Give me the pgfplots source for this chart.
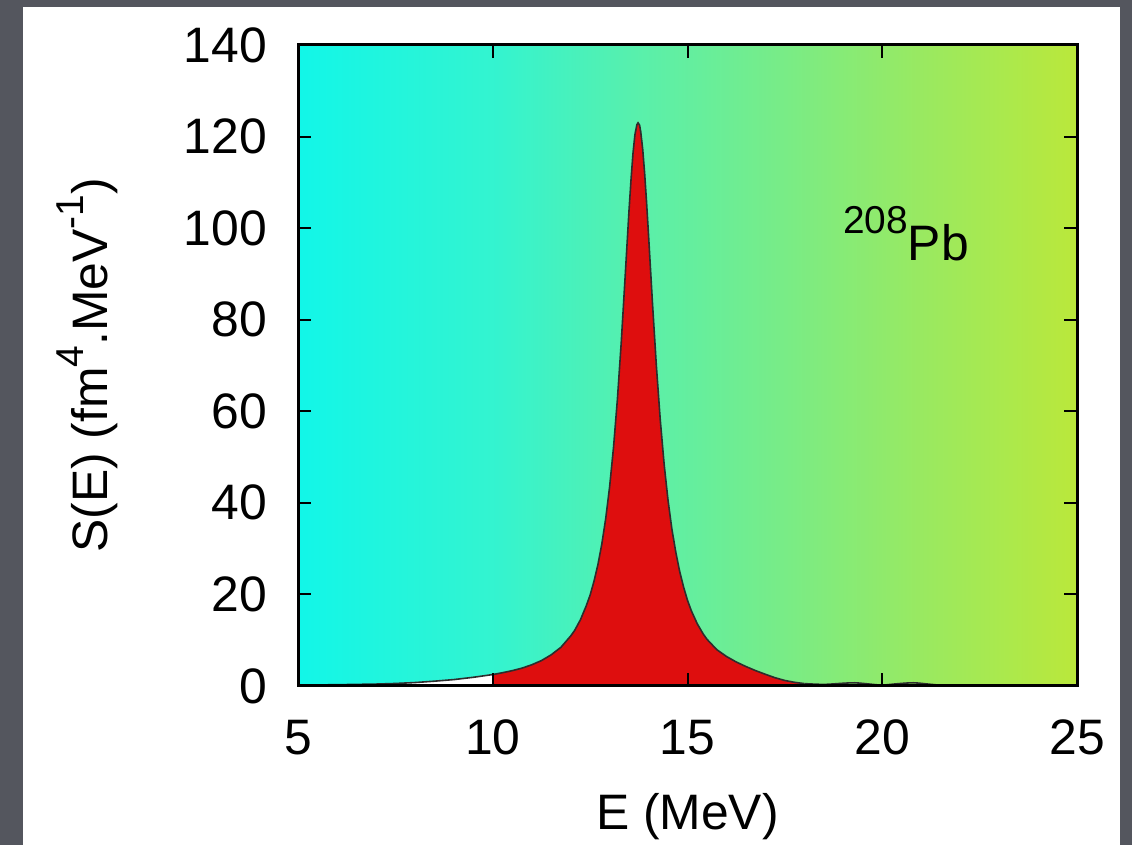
\documentclass[border=0pt]{standalone}
\usepackage{fontspec}
\setmainfont{Liberation Sans}
\usepackage{pgfplots}
\pgfplotsset{compat=1.18}
\definecolor{slide}{RGB}{84,86,94}
\definecolor{peakred}{RGB}{222,14,14}
\definecolor{curvecol}{RGB}{45,45,45}
\pgfdeclarehorizontalshading{bgshade}{100bp}{%
rgb(0bp)=(0.07,0.965,0.91);
rgb(25bp)=(0.07,0.965,0.91);
rgb(37.5bp)=(0.20,0.955,0.815);
rgb(47bp)=(0.35,0.94,0.67);
rgb(56bp)=(0.47,0.925,0.53);
rgb(65bp)=(0.60,0.915,0.38);
rgb(75bp)=(0.73,0.91,0.23);
rgb(100bp)=(0.73,0.91,0.23)}

\pgfplotstableread{
E S
5.0 0.20
6.0 0.28
7.0 0.42
7.5 0.55
8.0 0.75
8.5 1.05
9.0 1.40
9.5 1.90
10.0 2.50
}\lefttail

\pgfplotstableread{
E S
10.0 2.50
10.25 2.90
10.5 3.35
10.75 3.90
11.0 4.63
11.25 5.55
11.5 6.81
11.75 8.45
12.0 10.92
12.1 12.10
12.25 14.45
12.4 17.50
12.5 19.87
12.6 22.90
12.7 26.51
12.8 31.00
12.9 36.57
13.0 43.48
13.1 52.06
13.2 62.60
13.3 75.20
13.4 89.56
13.5 104.1
13.55 110.6
13.6 116.3
13.65 120.4
13.7 122.6
13.73 123.0
13.77 122.5
13.8 121.0
13.85 117.2
13.9 111.9
13.95 105.5
14.0 98.41
14.1 83.71
14.2 69.99
14.3 58.18
14.4 48.44
14.5 40.55
14.6 34.21
14.7 29.20
14.8 24.97
14.9 21.60
15.0 18.70
15.1 16.40
15.25 13.60
15.4 11.40
15.5 10.20
15.75 7.95
16.0 6.45
16.25 5.25
16.5 4.25
16.75 3.35
17.0 2.55
17.25 1.80
17.5 1.20
17.75 0.80
18.0 0.52
}\peak

\pgfplotstableread{
E S
18.0 0.52
18.5 0.35
19.0 0.60
19.3 0.70
19.7 0.40
20.0 0.20
20.4 0.50
20.8 0.70
21.2 0.40
21.6 0.10
22.0 0.05
23.0 0.02
25.0 0.00
}\righttail

\begin{document}
\begin{tikzpicture}[x=1bp,y=1bp]
\fill[slide] (0,0) rectangle (1132,845);
\fill[white] (23,0) rectangle (1120,838);
\useasboundingbox (0,0) rectangle (1132,845);
\begin{axis}[
  at={(298bp,159bp)}, anchor=south west,
  scale only axis, width=779bp, height=641bp,
  xmin=5, xmax=25, ymin=0, ymax=140,
  xtick={5,10,...,25}, ytick={0,20,...,140},
  tick align=inside, major tick length=13bp,
  axis line style={line width=3bp},
  every tick/.style={black, line width=2bp},
  tick label style={font=\fontsize{50}{60}\selectfont, inner sep=0pt},
  /pgf/number format/assume math mode=true,
  xticklabel style={anchor=north, yshift=-34bp},
  yticklabel style={anchor=east, xshift=-31bp},
  axis background/.style={shade, shading=bgshade},
  xlabel={E (MeV)},
  ylabel={S(E) (fm\raisebox{24bp}{\fontsize{39}{40}\selectfont 4}.MeV\raisebox{24bp}{\fontsize{39}{40}\selectfont -1})},
  label style={font=\fontsize{50}{60}\selectfont},
  xlabel style={at={([yshift=-131bp]axis description cs:0.5,0)}, anchor=center},
  ylabel style={at={([xshift=-211bp]axis description cs:0,0.5)}, anchor=center},
  axis on top,
]
\addplot[fill=white, draw=none] table[x=E,y=S] {\lefttail} \closedcycle;
\addplot[fill=peakred, draw=none] table[x=E,y=S] {\peak} \closedcycle;
\addplot[draw=curvecol, line width=1.6bp] table[x=E,y=S] {\lefttail};
\addplot[draw=curvecol, line width=1.6bp] table[x=E,y=S] {\peak};
\addplot[draw=curvecol, line width=1.6bp, smooth] table[x=E,y=S] {\righttail};
\node[anchor=base west, font=\fontsize{50}{60}\selectfont, inner sep=0pt] at (axis cs:18.99,93) {\raisebox{27bp}{\fontsize{39}{40}\selectfont 208}Pb};
\end{axis}
\end{tikzpicture}
\end{document}
